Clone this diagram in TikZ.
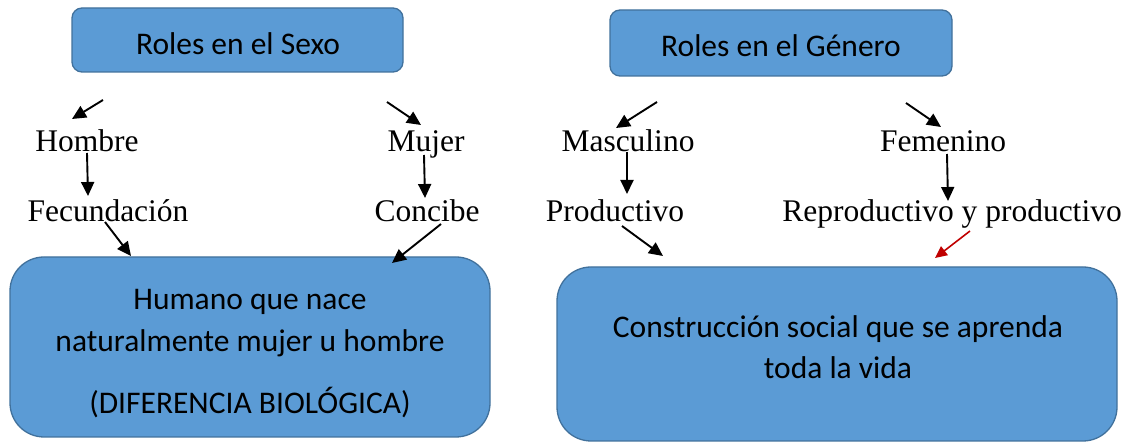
\documentclass[tikz,border=0pt]{standalone}
\usepackage{fontspec}
\setmainfont{Liberation Serif}
\newfontfamily\calfont{Carlito}
\usetikzlibrary{arrows.meta}
\definecolor{boxfill}{HTML}{5B9BD5}
\definecolor{boxborder}{HTML}{41719C}
\definecolor{redarrow}{HTML}{C00000}
\begin{document}
\begin{tikzpicture}[x=1pt,y=-1pt,
  topbox/.style={draw=boxborder, line width=1.3pt, fill=boxfill, rounded corners=10pt, inner sep=0pt},
  bigbox/.style={draw=boxborder, line width=1.3pt, fill=boxfill, rounded corners=34pt, inner sep=0pt},
  boxtext/.style={font=\calfont\fontsize{31.5}{42}\selectfont, inner sep=0pt, anchor=base},
  lbl/.style={font=\fontsize{31.5}{38}\selectfont, inner sep=0pt, anchor=base},
  arr/.style={line width=1.9pt, -{Triangle[length=14pt,width=13pt]}},
  redarr/.style={line width=1.6pt, draw=redarrow, -{Triangle[length=12pt,width=11pt,fill=redarrow]}}
]
\useasboundingbox (0,0) rectangle (1128,443);
% boxes
\node[topbox, minimum width=331pt, minimum height=64pt] (sexo) at (237.5,40) {};
\node[topbox, minimum width=342pt, minimum height=66pt] (genero) at (781,43) {};
\node[bigbox, minimum width=480pt, minimum height=180pt] (humano) at (250,347) {};
\node[bigbox, minimum width=560pt, minimum height=174pt] (construccion) at (837,354) {};
% box texts
\node[boxtext] (tsexo) at (238,55) {Roles en el Sexo};
\node[boxtext] (tgenero) at (781,57) {Roles en el Género};
\node[boxtext] (h1) at (250,310) {Humano que nace};
\node[boxtext] (h2) at (250,352) {naturalmente mujer u hombre};
\node[boxtext] (h3) at (250,414) {(DIFERENCIA BIOLÓGICA)};
\node[boxtext] (c1) at (838,338) {Construcción social que se aprenda};
\node[boxtext] (c2) at (838,379) {toda la vida};
% labels
\node[lbl] (hombre) at (87,152) {Hombre};
\node[lbl] (mujer) at (426,152) {Mujer};
\node[lbl] (masculino) at (628,152) {Masculino};
\node[lbl] (femenino) at (943,152) {Femenino};
\node[lbl] (fecundacion) at (108,222) {Fecundación};
\node[lbl] (concibe) at (427,222) {Concibe};
\node[lbl] (productivo) at (615,222) {Productivo};
\node[lbl] (reproductivo) at (952,222) {Reproductivo y productivo};
% arrow end points
\coordinate (a1s) at (103,100); \coordinate (a1e) at (72,119);
\coordinate (a2s) at (387,102); \coordinate (a2e) at (421,125);
\coordinate (a3s) at (87,153);  \coordinate (a3e) at (88,196);
\coordinate (a4s) at (424,155); \coordinate (a4e) at (425,198);
\coordinate (a5s) at (105,222); \coordinate (a5e) at (131,256);
\coordinate (a6s) at (441,224); \coordinate (a6e) at (392,263);
\coordinate (a7s) at (657,102); \coordinate (a7e) at (616,128);
\coordinate (a8s) at (906,103); \coordinate (a8e) at (941,127);
\coordinate (a9s) at (627,152); \coordinate (a9e) at (627,194);
\coordinate (a10s) at (947,154); \coordinate (a10e) at (948,201);
\coordinate (a11s) at (622,226); \coordinate (a11e) at (663,256);
\coordinate (a12s) at (970,231); \coordinate (a12e) at (935,258);
\draw[arr] (a1s) -- (a1e);
\draw[arr] (a2s) -- (a2e);
\draw[arr] (a3s) -- (a3e);
\draw[arr] (a4s) -- (a4e);
\draw[arr] (a5s) -- (a5e);
\draw[arr] (a6s) -- (a6e);
\draw[arr] (a7s) -- (a7e);
\draw[arr] (a8s) -- (a8e);
\draw[arr] (a9s) -- (a9e);
\draw[arr] (a10s) -- (a10e);
\draw[arr] (a11s) -- (a11e);
\draw[redarr] (a12s) -- (a12e);
\end{tikzpicture}
\end{document}
